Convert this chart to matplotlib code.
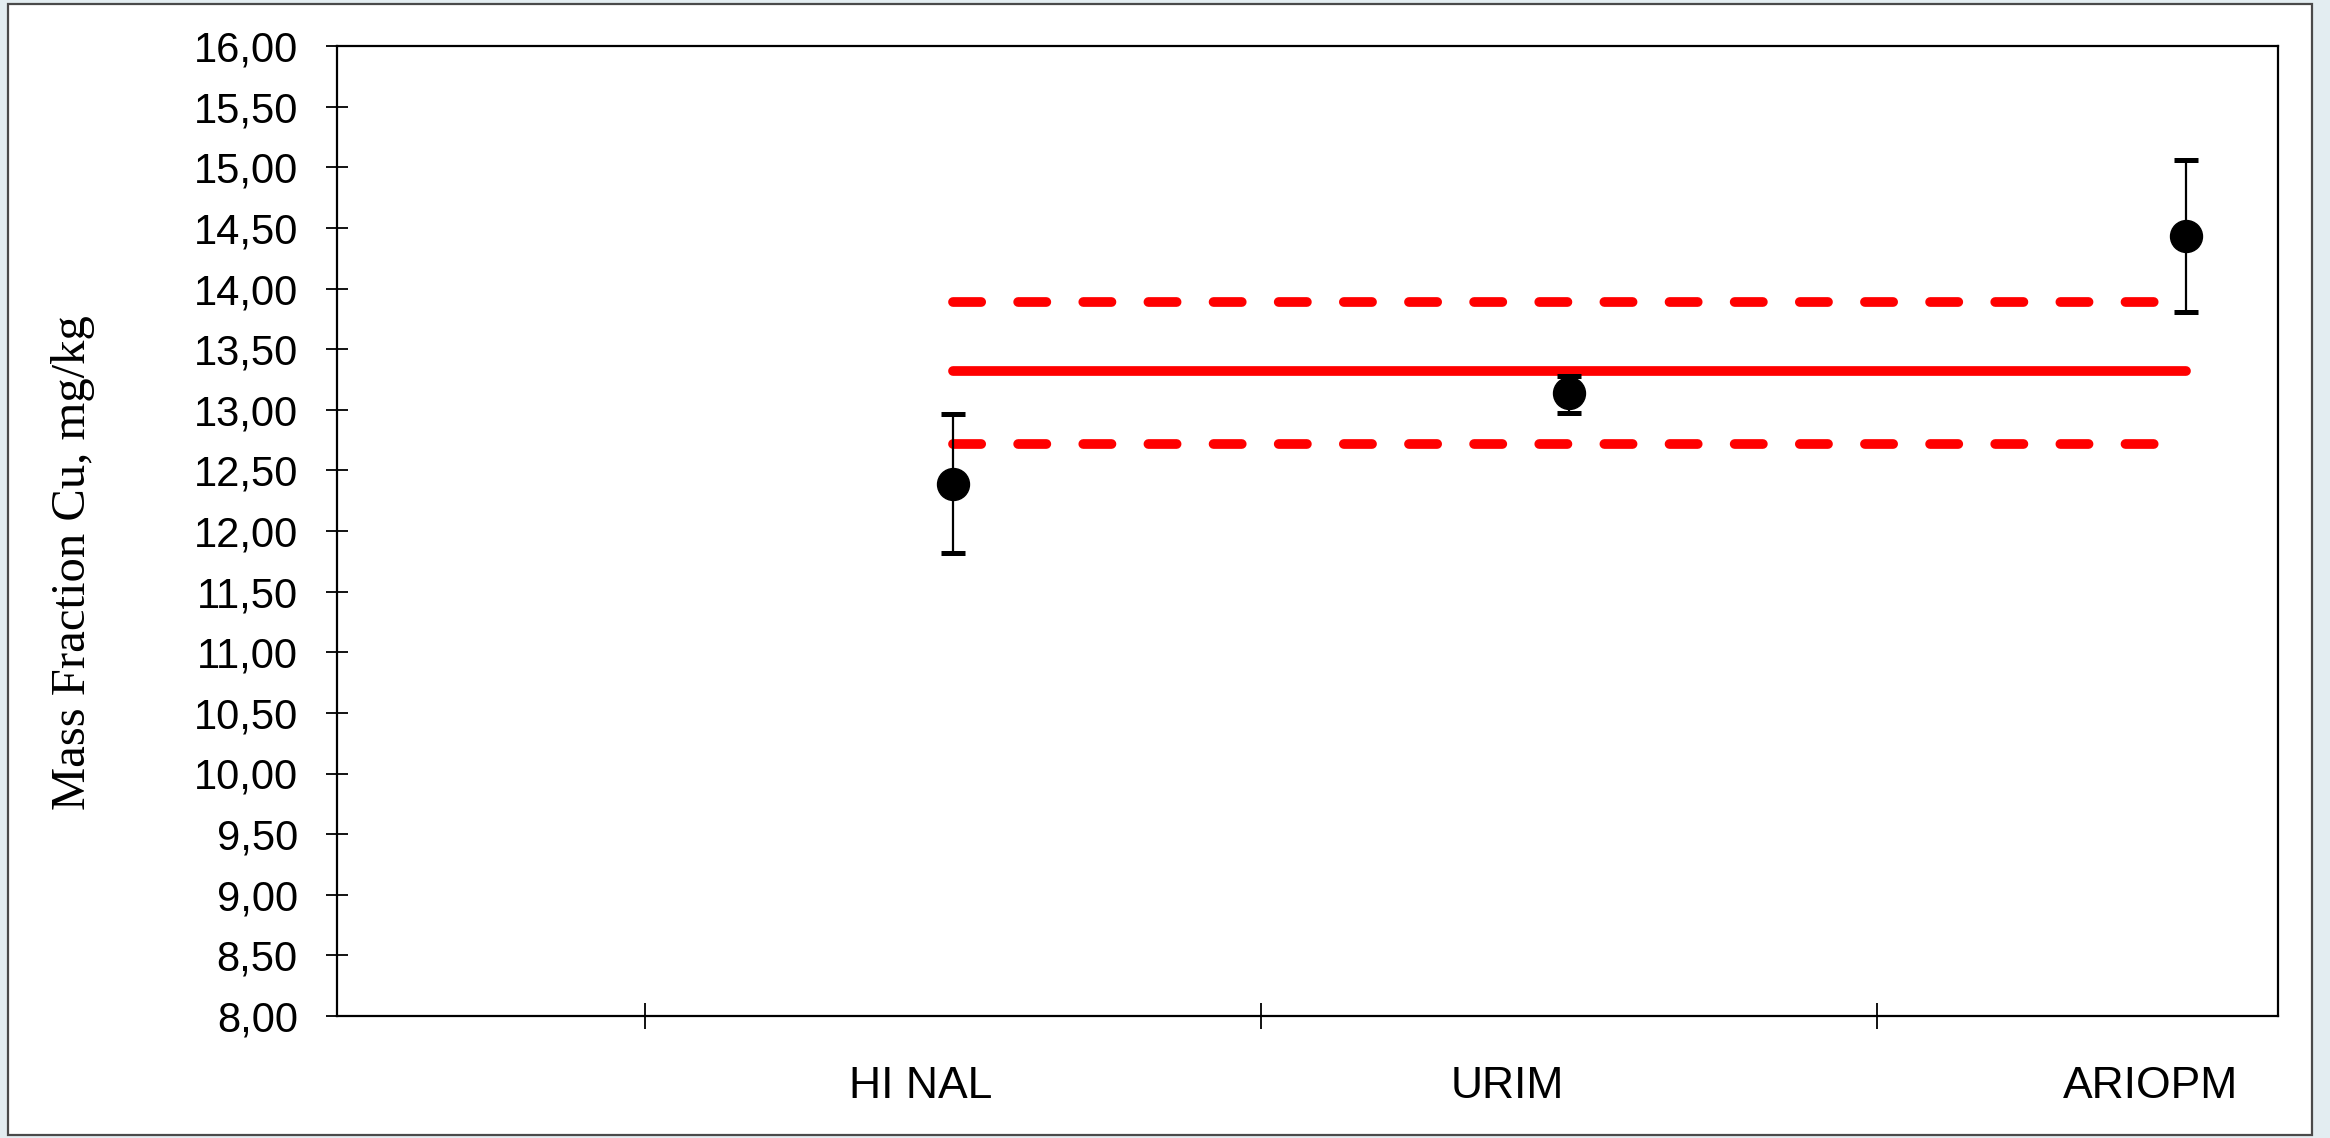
import matplotlib
matplotlib.use("Agg")
import matplotlib.pyplot as plt
from matplotlib.patches import Rectangle

# ---- data ----
labs = ["HI NAL", "URIM", "ARIOPM"]
values = [12.385, 13.14, 14.43]
err_lo = [0.57, 0.17, 0.62]
err_hi = [0.58, 0.14, 0.63]
ref_value = 13.32
ref_upper = 13.89
ref_lower = 12.72
yticks = [8.0, 8.5, 9.0, 9.5, 10.0, 10.5, 11.0, 11.5, 12.0, 12.5, 13.0, 13.5,
          14.0, 14.5, 15.0, 15.5, 16.0]

W, H, DPI = 2330, 1138, 100
fig = plt.figure(figsize=(W / DPI, H / DPI), dpi=DPI)
fig.patch.set_facecolor("#e3edf1")
fig.patches.append(Rectangle((8 / W, 1 - 1135 / H), (2312 - 8) / W, (1135 - 4) / H,
                             transform=fig.transFigure, facecolor="white",
                             edgecolor="#4a4a4a", linewidth=1.6, zorder=-10))

ax = fig.add_axes([337 / W, 1 - 1016 / H, (2278 - 337) / W, (1016 - 46) / H])
ax.set_zorder(5)
ax.set_facecolor("white")

xs = [1, 2, 3]
ax.plot([xs[0], xs[-1]], [ref_value, ref_value], color="#ff0000", lw=7,
        solid_capstyle="round", zorder=2)
for v in (ref_upper, ref_lower):
    ax.plot([xs[0], xs[-1]], [v, v], color="#ff0000", lw=7,
            dashes=(2.9, 3.8), dash_capstyle="round", zorder=2)

ax.errorbar(xs, values, yerr=[err_lo, err_hi], fmt="o", color="black",
            markersize=23, elinewidth=1.6, capsize=8.3, capthick=3.6, zorder=3)

ax.set_xlim(0, 3.15)
ax.set_ylim(8, 16)
ax.set_yticks(yticks)
ax.set_yticklabels([f"{t:.2f}".replace(".", ",") for t in yticks],
                   fontsize=30, family="Liberation Sans")
ax.tick_params(axis="y", direction="inout", length=16.5, width=1.3, pad=20,
               colors="black")
ax.set_xticks([0.5, 1.5, 2.5])
ax.set_xticklabels([])
ax.tick_params(axis="x", which="major", direction="inout", length=19, width=1.3)
ax.set_xticks([0.948, 1.90, 2.943], minor=True)
ax.set_xticklabels(labs, minor=True, fontsize=32, family="Liberation Sans")
ax.tick_params(axis="x", which="minor", length=0, pad=36)

for s in ax.spines.values():
    s.set_linewidth(1.6)
    s.set_color("black")

fig.text(73 / W, 1 - 563 / H, "Mass Fraction Cu, mg/kg", rotation=90,
         ha="center", va="center", fontsize=35, family="Liberation Serif",
         zorder=6)

fig.savefig("out.png", dpi=DPI, facecolor=fig.get_facecolor())
